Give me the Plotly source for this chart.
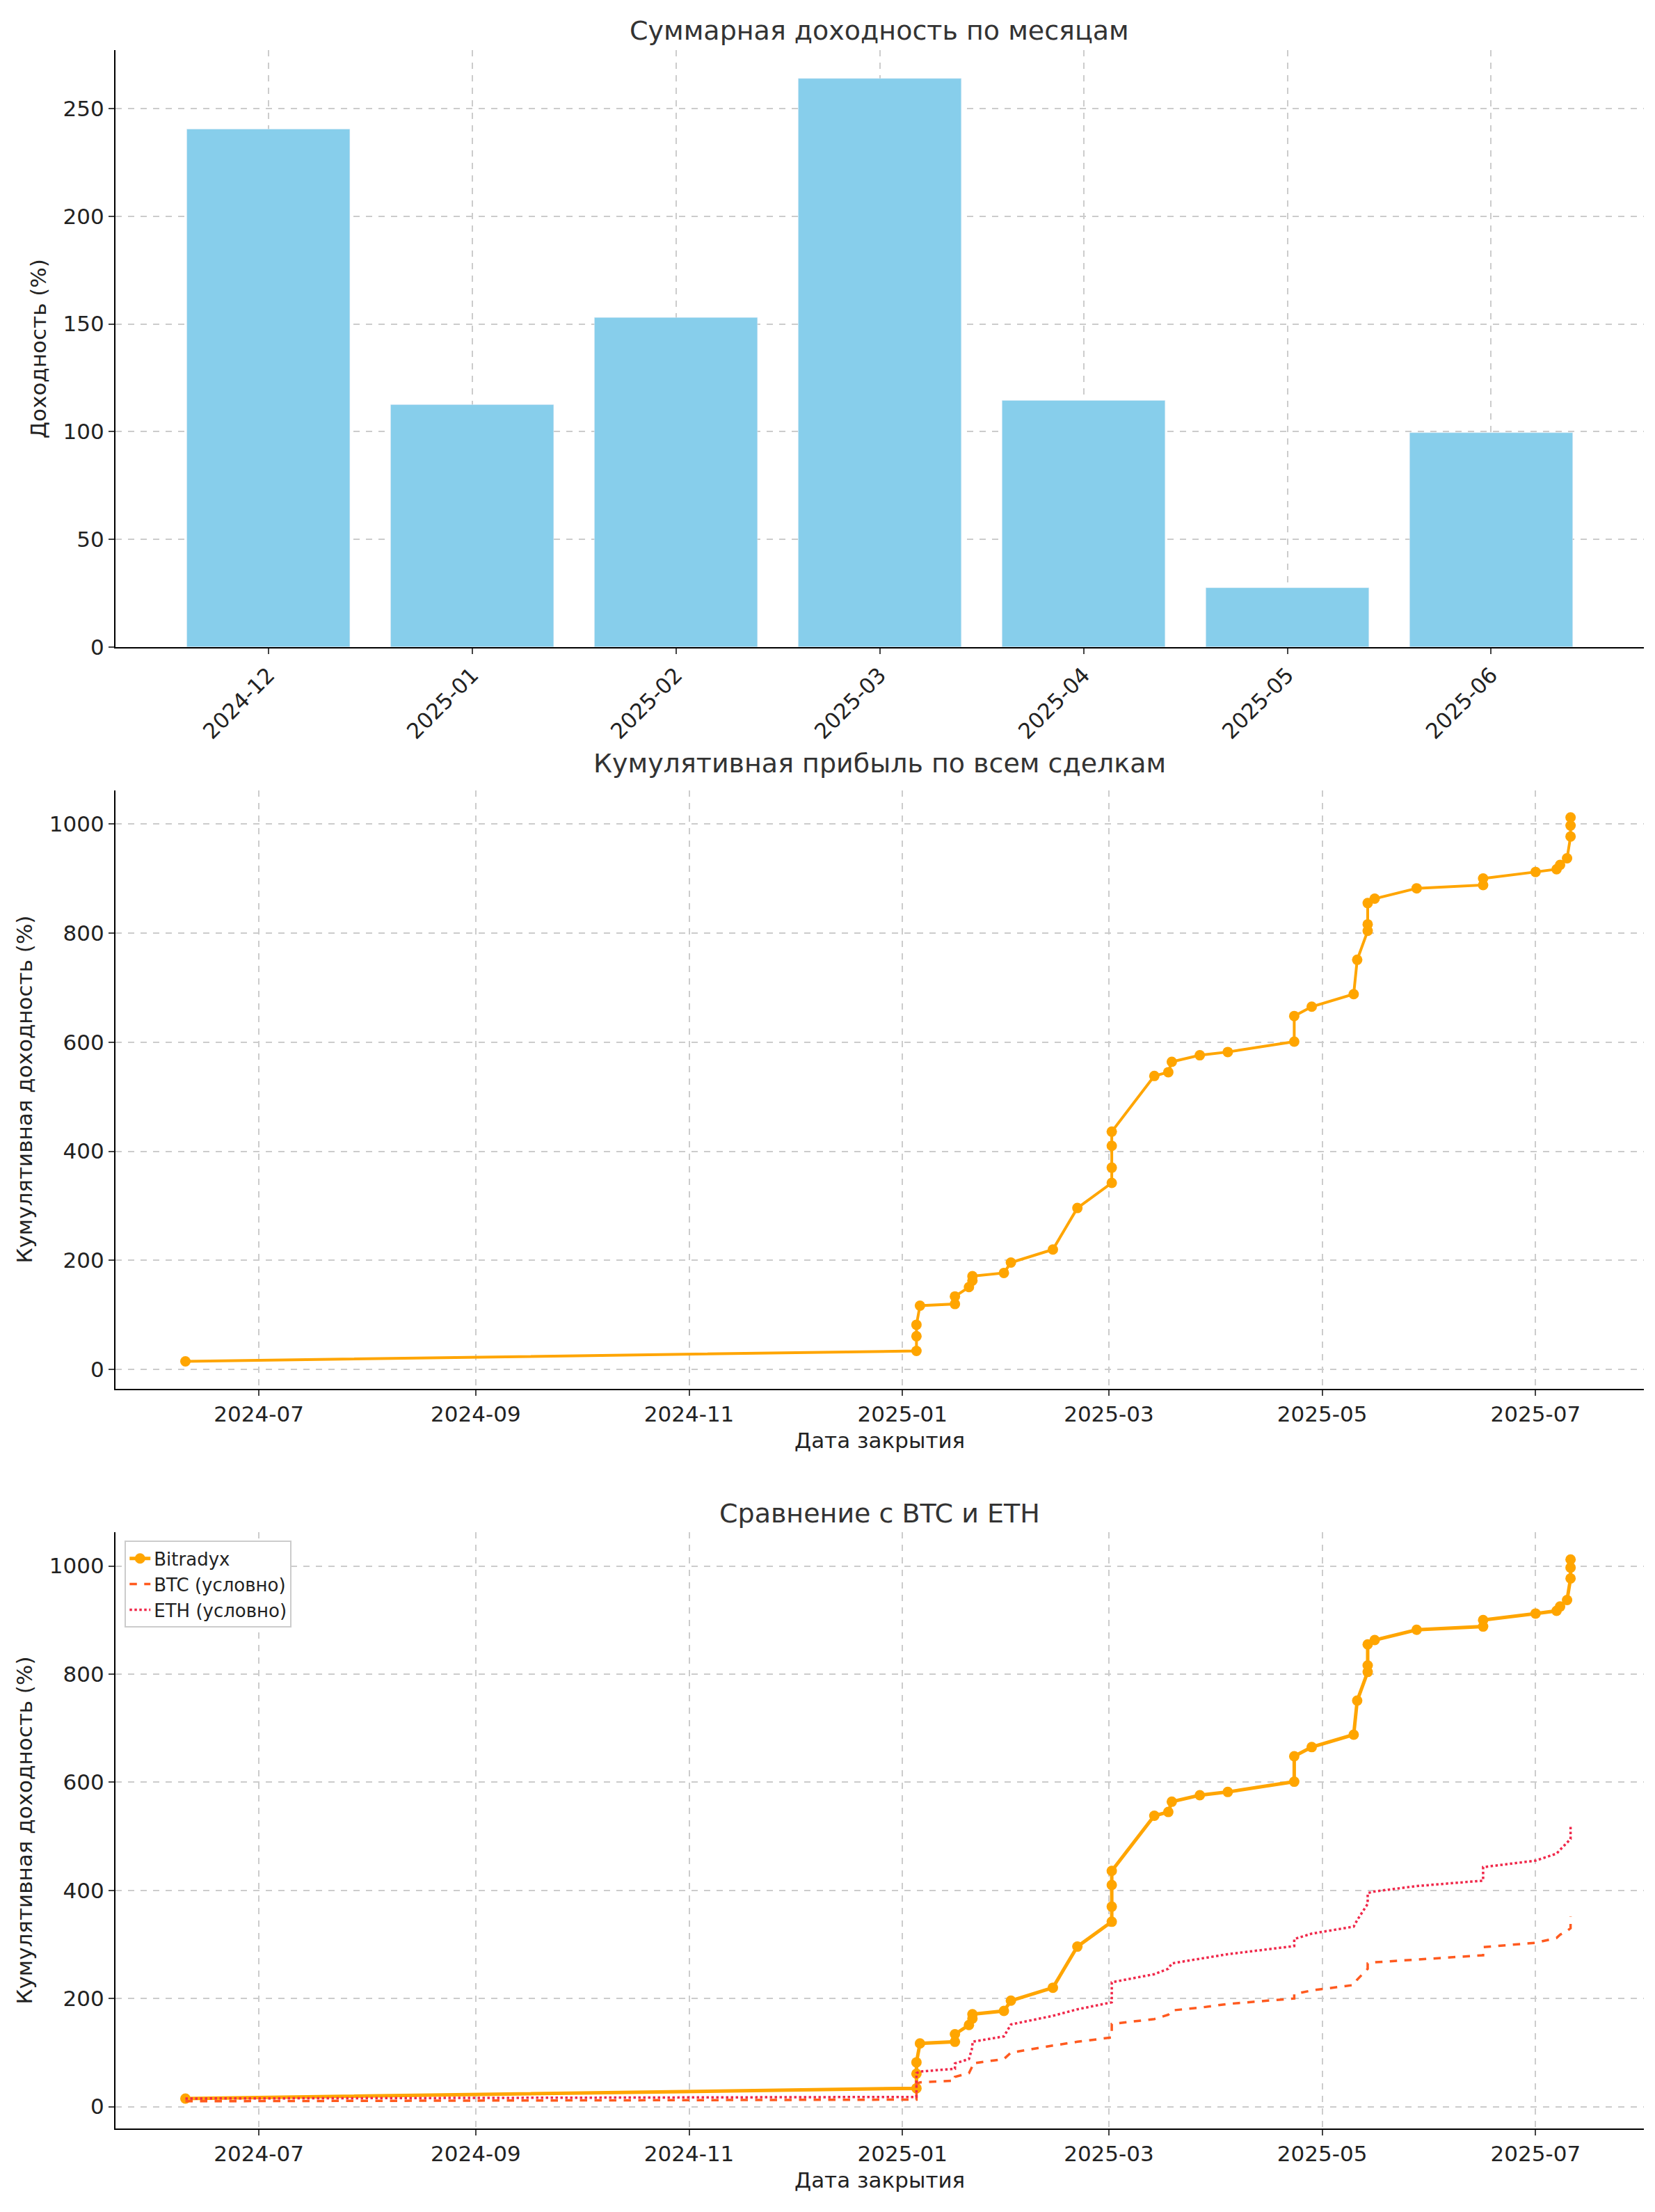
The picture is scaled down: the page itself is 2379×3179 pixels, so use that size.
import plotly.graph_objects as go

months = ["2024-12", "2025-01", "2025-02", "2025-03", "2025-04", "2025-05", "2025-06"]
month_returns = [240.5, 112.5, 153, 264, 114.5, 27.5, 99.5]

dates = ["2024-06-10",
         "2025-01-05", "2025-01-05", "2025-01-05", "2025-01-06", "2025-01-16", "2025-01-16",
         "2025-01-20", "2025-01-21", "2025-01-21", "2025-01-30", "2025-02-01", "2025-02-13",
         "2025-02-20", "2025-03-01 20:00", "2025-03-01 20:00", "2025-03-01 20:00", "2025-03-01 20:00",
         "2025-03-14", "2025-03-18", "2025-03-19", "2025-03-27", "2025-04-04", "2025-04-23",
         "2025-04-23", "2025-04-28", "2025-05-10", "2025-05-11", "2025-05-14", "2025-05-14",
         "2025-05-14", "2025-05-16", "2025-05-28", "2025-06-16", "2025-06-16", "2025-07-01",
         "2025-07-07", "2025-07-08", "2025-07-10", "2025-07-11", "2025-07-11", "2025-07-11"]
bitradyx = [15, 34, 61, 82, 117, 120, 134, 151, 163, 171, 177, 196, 220, 296, 342, 370, 410,
            436, 538, 545, 564, 576, 582, 601, 648, 665, 688, 751, 804, 816, 855, 863, 882,
            888, 900, 912, 917, 925, 937, 977, 997, 1012]
btc = [10, 13, 40, 42, 45, 48, 55, 62, 75, 80, 88, 100, 113, 120, 128, 150, 152, 153, 162,
       170, 178, 183, 190, 200, 208, 215, 225, 235, 255, 262, 265, 267, 272, 280, 295, 303,
       312, 318, 325, 330, 340, 352]
eth = [15, 18, 58, 62, 65, 70, 80, 88, 110, 120, 130, 152, 168, 180, 193, 225, 228, 230,
       245, 255, 265, 273, 282, 297, 310, 320, 333, 345, 375, 390, 395, 398, 408, 418, 443,
       455, 468, 475, 488, 495, 505, 520]

orange = "#FFA500"
font = dict(family="DejaVu Sans", size=31, color="#222")

fig = go.Figure()
fig.add_trace(go.Bar(x=months, y=month_returns, marker_color="#87CEEB", width=0.8,
                     showlegend=False, xaxis="x", yaxis="y"))
fig.add_trace(go.Scatter(x=dates, y=bitradyx, mode="lines+markers", showlegend=False,
                         line=dict(color=orange, width=4), marker=dict(size=15, color=orange),
                         xaxis="x2", yaxis="y2"))
fig.add_trace(go.Scatter(x=dates, y=bitradyx, mode="lines+markers", name="Bitradyx",
                         line=dict(color=orange, width=5), marker=dict(size=15, color=orange),
                         xaxis="x3", yaxis="y3"))
fig.add_trace(go.Scatter(x=dates, y=btc, mode="lines", name="BTC (условно)",
                         line=dict(color="#FF5A1F", width=3.5, dash="dash"),
                         xaxis="x3", yaxis="y3"))
fig.add_trace(go.Scatter(x=dates, y=eth, mode="lines", name="ETH (условно)",
                         line=dict(color="#F0284A", width=3.5, dash="dot"),
                         xaxis="x3", yaxis="y3"))

grid = dict(showgrid=True, gridcolor="#cccccc", griddash="dash", gridwidth=1.5,
            showline=True, linecolor="black", linewidth=2, ticks="outside",
            ticklen=8, tickwidth=2, tickfont=font, zeroline=False)
xd = [0.0664, 0.99]
date_range = ["2024-05-21", "2025-08-01"]
fig.update_layout(
    width=2379, height=3179, plot_bgcolor="white", paper_bgcolor="white",
    margin=dict(l=0, r=0, t=0, b=0), font=font,
    xaxis=dict(domain=xd, anchor="y", type="category", tickangle=-45, range=[-0.75, 6.75], **grid),
    yaxis=dict(domain=[0.7084, 0.9796], anchor="x", range=[0, 277], dtick=50,
               title=dict(text="Доходность (%)", font=font), **grid),
    xaxis2=dict(domain=xd, anchor="y2", type="date", range=date_range, dtick="M2",
                tickformat="%Y-%m", title=dict(text="Дата закрытия", font=font, standoff=10), **grid),
    yaxis2=dict(domain=[0.3712, 0.6433], anchor="x2", range=[-35, 1062], dtick=200,
                title=dict(text="Кумулятивная доходность (%)", font=font), **grid),
    xaxis3=dict(domain=xd, anchor="y3", type="date", range=date_range, dtick="M2",
                tickformat="%Y-%m", title=dict(text="Дата закрытия", font=font, standoff=10), **grid),
    yaxis3=dict(domain=[0.0349, 0.3058], anchor="x3", range=[-40, 1062], dtick=200,
                title=dict(text="Кумулятивная доходность (%)", font=font), **grid),
    legend=dict(x=0.072, y=0.302, xanchor="left", yanchor="top", bgcolor="white",
                bordercolor="#cccccc", borderwidth=2, font=dict(family="DejaVu Sans", size=26)),
    annotations=[
        dict(text="Суммарная доходность по месяцам", x=0.528, y=0.9885, xref="paper", yref="paper",
             showarrow=False, yanchor="middle", font=dict(family="DejaVu Sans", size=38, color="#333")),
        dict(text="Кумулятивная прибыль по всем сделкам", x=0.528, y=0.6555, xref="paper", yref="paper",
             showarrow=False, yanchor="middle", font=dict(family="DejaVu Sans", size=38, color="#333")),
        dict(text="Сравнение с BTC и ETH", x=0.528, y=0.3145, xref="paper", yref="paper",
             showarrow=False, yanchor="middle", font=dict(family="DejaVu Sans", size=38, color="#333")),
    ],
)

fig.write_html("out.html")
